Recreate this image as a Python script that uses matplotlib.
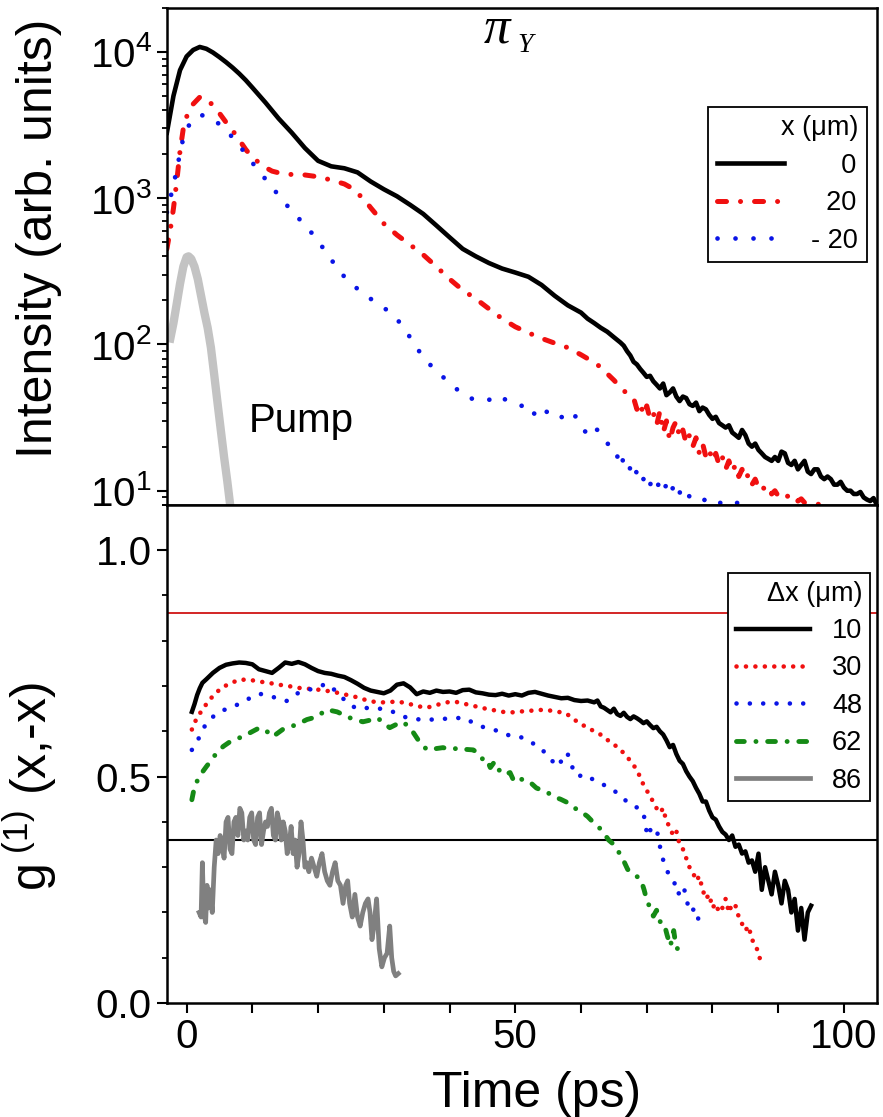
import matplotlib
matplotlib.use("Agg")
import matplotlib.pyplot as plt
from matplotlib.ticker import LogLocator, LogFormatterMathtext, MultipleLocator, FixedLocator, NullFormatter

plt.rcParams['font.family'] = ['Liberation Sans', 'DejaVu Sans']
plt.rcParams['mathtext.fontset'] = 'custom'
plt.rcParams['mathtext.rm'] = 'Liberation Sans'
plt.rcParams['mathtext.it'] = 'Liberation Sans:italic'
plt.rcParams['mathtext.bf'] = 'Liberation Sans:bold'

# ---- top panel: emission intensity vs time (log) ----
t_x0 = [-3, -2, -1, 0, 1, 2, 3, 4, 5, 6, 7, 8, 9, 10, 12, 14, 16, 18, 20, 22, 24, 26, 28, 30,
        32, 34, 36, 38, 40, 42, 44, 46, 48, 50, 52, 54, 56, 58, 60, 61, 62, 63, 64, 65,
        66, 66.5, 67, 67.5, 68, 68.5, 69, 69.5, 70, 70.5, 71, 71.5, 72, 72.5, 73, 73.5, 74, 74.5,
        75, 75.5, 76, 76.5, 77, 77.5, 78, 78.5, 79, 79.5, 80, 80.5, 81, 81.5, 82, 82.5, 83, 83.5,
        84, 84.5, 85, 85.5, 86, 86.5, 87, 87.5, 88, 88.5, 89, 89.5, 90, 90.5, 91, 91.5, 92, 92.5,
        93, 93.5, 94, 94.5, 95, 95.5, 96, 96.5, 97, 97.5, 98, 98.5, 99, 99.5, 100, 100.5, 101, 101.5,
        102, 102.5, 103, 103.5, 104, 104.5, 105]
I_x0 = [2800, 5000, 7500, 9300, 10300, 10800, 10500, 9900, 9200, 8500, 7800, 7100, 6400, 5700, 4500,
        3500, 2800, 2200, 1800, 1650, 1600, 1500, 1300, 1150, 1030, 900, 780, 650, 540, 450, 400, 360,
        330, 310, 290, 255, 215, 185, 165, 150, 140, 130, 122, 112,
        103, 98, 90, 84, 76, 73, 68, 64, 60, 61, 56, 53, 50, 54, 45, 47, 50, 44,
        41, 44, 43, 39, 38, 40, 35, 37, 36, 33, 31, 32, 29, 28, 27, 28, 25, 24,
        23, 26, 24, 21, 20, 21, 19, 18, 17, 16.5, 16, 17, 16, 18.5, 18, 15.5, 15, 16,
        14, 15, 16, 13.5, 13, 14, 14, 12.5, 12, 12.5, 12, 11, 11, 11.5, 10.5, 10, 10, 9.5,
        9.5, 9.8, 9, 8.7, 8.5, 8.9, 8]

t_x20 = [-3, -2.5, -2, -1.5, -1, -0.5, 0, 0.5, 1, 2, 3, 4, 5, 6, 7, 8, 9, 10, 11, 12, 13, 14, 16, 18,
         20, 22, 24, 25, 26, 27, 28, 29, 30, 32, 34, 36, 38, 40, 42, 44, 46, 48, 50, 52, 54, 56, 58,
         60, 61, 62, 63, 64, 65, 66, 67, 68, 68.5, 69, 69.5, 70, 70.5, 71, 71.5, 72, 72.5, 73, 73.5,
         74, 74.5, 75, 75.5, 76, 76.5, 77, 77.5, 78, 78.5, 79, 79.5, 80, 80.5, 81, 81.5, 82, 82.5,
         83, 83.5, 84, 84.5, 85, 85.5, 86, 86.5, 87, 87.5, 88, 88.5, 89, 89.5, 90, 90.5, 91, 91.5,
         92, 92.5, 93, 93.5, 94, 95, 96, 97]
I_x20 = [450, 600, 850, 1300, 2100, 3000, 3600, 4000, 4400, 4900, 4800, 4300, 3800, 3300, 2900, 2500,
         2150, 1900, 1750, 1620, 1530, 1490, 1450, 1440, 1400, 1330, 1250, 1180, 1080, 980, 860, 760,
         670, 560, 480, 410, 340, 280, 235, 205, 175, 150, 132, 120, 110, 102, 95,
         85, 80, 75, 70, 63, 57, 51, 46, 43, 36, 40, 33, 38, 31, 34, 28, 35, 25, 30, 22,
         27, 30, 23, 26, 21, 24, 20, 23, 18, 21, 17, 19, 16, 18, 15, 17, 14, 16,
         13.5, 15, 12.5, 14, 12, 13, 11, 12, 10.5, 11, 10, 10.5, 9.5, 10, 9.2, 9.5, 9, 9.2,
         8.7, 9, 8.5, 8.8, 8.3, 8.2, 8.1, 7.9]

t_xm20 = [-3, -2.5, -2, -1.5, -1, -0.5, 0, 0.5, 1, 2, 3, 4, 5, 6, 7, 8, 9, 10, 11, 12, 13, 14, 15,
          16, 17, 18, 19, 20, 21, 22, 23, 24, 25, 26, 27, 28, 29, 30, 31, 32, 33, 34, 35, 36, 37,
          38, 39, 40, 41, 42, 43, 44, 45, 46, 47, 48, 49, 50, 51, 52, 53, 54, 55, 56, 57, 58, 59,
          60, 61, 62, 63, 64, 65, 65.5, 66, 66.5, 67, 67.5, 68, 68.5, 69, 69.5, 70, 70.5, 71, 71.5,
          72, 72.5, 73, 73.5, 74, 74.5, 75, 75.5, 76, 77, 78, 79, 80, 81, 82, 83, 84, 85]
I_xm20 = [800, 1000, 1200, 1600, 2000, 2600, 3000, 3200, 3450, 3700, 3650, 3450, 3200, 2900, 2600,
          2300, 2000, 1750, 1520, 1350, 1180, 1050, 920, 820, 730, 660, 580, 510, 440, 380, 330,
          290, 260, 240, 220, 205, 190, 178, 165, 150, 128, 112, 95, 82, 73, 66, 60, 54, 50, 45,
          43, 42, 41, 42, 40, 43, 41, 40, 38, 39, 33, 37, 34, 31, 32, 30, 33,
          28, 24, 27, 25, 21, 20, 17, 19, 15, 16, 14, 15.5, 13, 14, 12, 13, 11, 12, 10.5,
          11.5, 10, 11, 9.5, 10.5, 9, 9.8, 8.7, 9.5, 8.8, 9.2, 8.5, 8.8, 8.2, 8.5, 8.1, 8.3, 8.0]

t_pump = [-2.6, -2, -1.5, -1, -0.5, 0, 0.3, 0.7, 1.2, 1.7, 2.2, 2.7, 3.2, 3.7, 4.2, 4.7, 5.2, 5.7, 6.2, 6.7]
I_pump = [103, 140, 190, 260, 340, 395, 400, 385, 340, 280, 215, 165, 130, 95, 62, 40, 26, 17, 11.5, 7.5]

# ---- bottom panel: first order coherence g1(x,-x) ----
t_d10 = [0.8, 1.2, 1.6, 2.0, 2.4, 3, 3.5, 4, 5, 6, 7, 8, 9, 10, 11, 12, 13, 14, 15, 16, 17, 18, 19,
         20, 21, 22, 23, 24, 25, 26, 27, 28, 29, 30, 31, 32, 33, 34, 35, 36, 37, 38, 39, 40, 41, 42,
         43, 44, 45, 46, 47, 48, 49, 50, 51, 52, 53, 54, 55, 56, 57, 58, 59, 60, 61, 62, 62.5, 63,
         63.5, 64, 64.5, 65, 65.5, 66, 66.5, 67, 67.5, 68, 68.5, 69, 69.5, 70, 70.5, 71, 71.5, 72,
         72.5, 73, 73.5, 74, 74.5, 75, 75.5, 76, 76.5, 77, 77.5, 78, 78.5, 79, 79.5, 80, 80.5, 81,
         81.5, 82, 82.5, 83, 83.5, 84, 84.5, 85, 85.5, 86, 86.5, 87, 87.5, 88, 88.5, 89, 89.5, 90,
         90.5, 91, 91.5, 92, 92.5, 93, 93.5, 94, 94.5, 95]
g_d10 = [0.643, 0.66, 0.68, 0.695, 0.707, 0.715, 0.722, 0.729, 0.74, 0.747, 0.75, 0.752, 0.751, 0.748,
         0.737, 0.733, 0.729, 0.74, 0.752, 0.749, 0.753, 0.748, 0.74, 0.733, 0.729, 0.727, 0.723,
         0.72, 0.713, 0.705, 0.696, 0.69, 0.687, 0.684, 0.69, 0.703, 0.706, 0.697, 0.682, 0.688,
         0.685, 0.69, 0.687, 0.688, 0.685, 0.691, 0.692, 0.686, 0.684, 0.681, 0.68, 0.683, 0.679,
         0.682, 0.679, 0.685, 0.687, 0.683, 0.679, 0.676, 0.673, 0.674, 0.669, 0.667, 0.668, 0.664,
         0.668, 0.655, 0.652, 0.647, 0.642, 0.65, 0.638, 0.634, 0.641, 0.632, 0.627, 0.633, 0.629,
         0.624, 0.618, 0.622, 0.614, 0.607, 0.61, 0.6, 0.593, 0.58, 0.565, 0.57, 0.55, 0.535, 0.528,
         0.512, 0.5, 0.49, 0.475, 0.462, 0.445, 0.445, 0.425, 0.41, 0.405, 0.39, 0.378, 0.372, 0.36,
         0.37, 0.345, 0.35, 0.33, 0.335, 0.31, 0.315, 0.29, 0.33, 0.25, 0.3, 0.27, 0.24, 0.29, 0.26,
         0.22, 0.27, 0.25, 0.2, 0.23, 0.16, 0.21, 0.14, 0.2, 0.215]

t_d30 = [0.8, 1.5, 2.4, 3.5, 4.5, 5.3, 6.5, 8, 9.5, 11, 12.5, 14, 15.5, 17, 18.5, 20, 21.5, 23, 24.5,
         26, 27.5, 29, 30.5, 32, 33.5, 35, 36.5, 38, 39.5, 41, 42.5, 44, 45.5, 47, 48.5, 50, 51.5,
         53, 54.5, 56, 57.5, 58.5, 59.5, 60.5, 61.5, 62.5, 63.5, 64.5, 65.5, 66.5, 67.5, 68.5, 69.5,
         70, 70.5, 71, 71.5, 72, 72.5, 73, 73.5, 74, 74.5, 75, 75.5, 76, 76.5, 77, 77.5, 78, 78.5,
         79, 79.5, 80, 80.5, 81, 81.5, 82, 82.5, 83, 83.5, 84, 84.5, 85, 85.5, 86, 86.5, 87, 87.3]
g_d30 = [0.604, 0.628, 0.648, 0.67, 0.685, 0.696, 0.705, 0.714, 0.714, 0.71, 0.707, 0.703, 0.7, 0.696,
         0.694, 0.692, 0.689, 0.685, 0.68, 0.675, 0.668, 0.664, 0.664, 0.666, 0.662, 0.656, 0.652,
         0.658, 0.664, 0.665, 0.66, 0.655, 0.65, 0.646, 0.642, 0.642, 0.645, 0.646, 0.648, 0.644,
         0.641, 0.632, 0.62, 0.612, 0.604, 0.597, 0.588, 0.575, 0.566, 0.552, 0.535, 0.515, 0.482,
         0.47, 0.455, 0.445, 0.43, 0.42, 0.43, 0.4, 0.39, 0.37, 0.38, 0.35, 0.34, 0.32, 0.3, 0.29,
         0.27, 0.28, 0.25, 0.23, 0.24, 0.21, 0.22, 0.2, 0.21, 0.23, 0.2, 0.22, 0.215, 0.19, 0.175,
         0.16, 0.17, 0.14, 0.13, 0.11, 0.093]

t_d48 = [0.8, 1.4, 2, 3, 4, 5, 6.5, 7.6, 9.3, 11.1, 13.1, 15.2, 17.2, 19.2, 21.3, 22.9, 24.4, 25.9,
         27.9, 29.4, 31.4, 33.5, 35.5, 37.5, 39.6, 42.1, 43.6, 45, 46.6, 48, 49.2, 51.2, 52.5, 53.8,
         55, 56.4, 57.9, 58.7, 59.5, 60.5, 61.9, 63, 64, 65, 66, 67, 68, 69, 69.5, 70.1, 70.8, 71.6,
         72.1, 72.6, 73.2, 74.1, 74.6, 75.2, 75.6, 76.2, 76.7, 77.3, 78.2]
g_d48 = [0.559, 0.575, 0.588, 0.619, 0.632, 0.643, 0.652, 0.658, 0.671, 0.683, 0.676, 0.667, 0.687,
         0.694, 0.705, 0.687, 0.663, 0.65, 0.652, 0.65, 0.643, 0.63, 0.626, 0.626, 0.628, 0.63,
         0.619, 0.61, 0.604, 0.598, 0.59, 0.586, 0.575, 0.564, 0.545, 0.522, 0.553, 0.52, 0.5, 0.505,
         0.493, 0.485, 0.478, 0.47, 0.456, 0.445, 0.434, 0.43, 0.42, 0.368, 0.39, 0.377, 0.339, 0.31,
         0.289, 0.273, 0.24, 0.245, 0.258, 0.22, 0.2, 0.21, 0.17]

t_d62 = [0.8, 1.2, 1.7, 2.4, 3, 3.8, 4.7, 5.6, 6.6, 7.5, 8.5, 9.8, 11.1, 12.2, 13.1, 14.6, 15.7, 16.8,
         18.3, 19.8, 21.3, 22.9, 24.8, 26.8, 28, 29, 30.9, 32, 32.9, 33.8, 34.5, 35.5, 36.6, 38, 39,
         40.3, 41.6, 42.6, 43.6, 44.5, 45.2, 45.7, 46.2, 46.7, 47.2, 47.7, 48.5, 49.2, 49.7, 50.5,
         51.3, 52.3, 53.2, 54, 54.9, 55.8, 56.9, 57.9, 58.8, 59.8, 61, 61.8, 62.6, 63.4, 64.2, 65,
         65.5, 66.3, 67.1, 68, 69.1, 69.6, 70.1, 70.6, 71, 71.5, 72, 72.6, 73.1, 73.6, 74.1, 74.4, 74.7]
g_d62 = [0.449, 0.478, 0.493, 0.51, 0.522, 0.537, 0.555, 0.567, 0.577, 0.583, 0.588, 0.598, 0.608,
         0.6, 0.588, 0.604, 0.61, 0.615, 0.626, 0.632, 0.648, 0.643, 0.63, 0.621, 0.625, 0.63, 0.608,
         0.616, 0.621, 0.61, 0.597, 0.575, 0.559, 0.562, 0.564, 0.56, 0.564, 0.56, 0.559, 0.55,
         0.535, 0.537, 0.52, 0.53, 0.512, 0.515, 0.505, 0.509, 0.493, 0.5, 0.49, 0.487, 0.475, 0.47,
         0.465, 0.456, 0.45, 0.443, 0.432, 0.425, 0.412, 0.4, 0.39, 0.377, 0.36, 0.35, 0.339, 0.32,
         0.295, 0.285, 0.273, 0.25, 0.222, 0.21, 0.192, 0.205, 0.18, 0.178, 0.15, 0.126, 0.16, 0.13,
         0.119]

t_d86 = [1.9, 2.2, 2.4, 2.6, 2.9, 3.1, 3.3, 3.6, 3.9, 4.2, 4.5, 4.8, 5.1, 5.4, 5.7, 6.0, 6.3, 6.6,
         6.9, 7.2, 7.5, 7.8, 8.1, 8.4, 8.7, 9.0, 9.3, 9.6, 9.9, 10.2, 10.5, 10.8, 11.1, 11.4, 11.7,
         12.0, 12.3, 12.6, 12.9, 13.2, 13.5, 13.8, 14.1, 14.4, 14.7, 15.0, 15.3, 15.6, 15.9, 16.2,
         16.5, 16.8, 17.1, 17.4, 17.7, 18.0, 18.3, 18.6, 19.0, 19.4, 19.8, 20.2, 20.6, 21.0, 21.4,
         21.8, 22.2, 22.6, 23.0, 23.4, 23.8, 24.2, 24.5, 24.8, 25.2, 25.6, 26.0, 26.4, 26.8, 27.2,
         27.6, 27.9, 28.2, 28.5, 28.9, 29.3, 29.7, 30.1, 30.5, 30.9, 31.2, 31.5, 31.8, 32.2]
g_d86 = [0.2, 0.19, 0.31, 0.2, 0.178, 0.26, 0.21, 0.25, 0.2, 0.3, 0.36, 0.33, 0.37, 0.35, 0.32, 0.4,
         0.41, 0.34, 0.33, 0.4, 0.41, 0.37, 0.43, 0.42, 0.36, 0.38, 0.36, 0.41, 0.42, 0.36, 0.35,
         0.41, 0.42, 0.35, 0.38, 0.4, 0.39, 0.42, 0.43, 0.37, 0.36, 0.42, 0.4, 0.36, 0.4, 0.38, 0.33,
         0.35, 0.39, 0.33, 0.36, 0.3, 0.33, 0.4, 0.36, 0.3, 0.31, 0.29, 0.32, 0.3, 0.28, 0.31, 0.33,
         0.29, 0.27, 0.26, 0.29, 0.31, 0.27, 0.26, 0.22, 0.26, 0.27, 0.22, 0.19, 0.24, 0.19, 0.17,
         0.2, 0.22, 0.23, 0.2, 0.14, 0.17, 0.23, 0.12, 0.08, 0.1, 0.11, 0.17, 0.1, 0.07, 0.06, 0.065]

g_thermal = 0.861   # red reference line
g_cutoff = 0.361    # black reference line (1/e)

legend_top = ['\u2007\u20070', '\u200720', '- 20']
legend_bot = ['10', '30', '48', '62', '86']

fig = plt.figure(figsize=(8.83, 11.17), dpi=100)
ax1 = fig.add_axes([0.189, 0.548, 0.804, 0.445])
ax2 = fig.add_axes([0.189, 0.102, 0.804, 0.446])

l0, = ax1.plot(t_x0, I_x0, color='black', lw=3.3)
l20, = ax1.plot(t_x20, I_x20, color='#f01010', lw=3.6,
                linestyle=(0, (1.8, 2.8, 0.01, 2.8)), dash_capstyle='round')
lm20, = ax1.plot(t_xm20, I_xm20, color='#0a14e6', lw=3.4,
                 linestyle=(0, (0.01, 3.8)), dash_capstyle='round')
ax1.plot(t_pump, I_pump, color='#c3c3c3', lw=6, solid_capstyle='butt')
ax1.text(17.5, 30, 'Pump', ha='center', va='center', fontsize=29)

ax1.set_yscale('log')
ax1.set_xlim(-3, 105)
ax1.set_ylim(8, 2e4)
ax1.yaxis.set_major_locator(LogLocator(base=10, numticks=10))
ax1.yaxis.set_major_formatter(LogFormatterMathtext())
ax1.yaxis.set_minor_locator(LogLocator(base=10, subs=range(2, 10), numticks=20))
ax1.yaxis.set_minor_formatter(NullFormatter())
ax1.xaxis.set_major_locator(MultipleLocator(10))
ax1.set_xticklabels([])
ax1.set_ylabel('Intensity (arb. units)', fontsize=36)
ax1.yaxis.set_label_coords(-0.148, 0.537)

ax1.text(0.465, 0.956, '\u03c0', transform=ax1.transAxes, ha='center', va='center',
         fontsize=38, family='Liberation Serif', style='italic')
ax1.text(0.505, 0.924, 'Y', transform=ax1.transAxes, ha='center', va='center',
         fontsize=20, family='Liberation Serif', style='italic')

leg1 = ax1.legend([l0, l20, lm20], legend_top, title='x (\u03bcm)', loc='upper right',
                  bbox_to_anchor=(0.986, 0.801), borderaxespad=0, fontsize=19.5, title_fontsize=19.5,
                  handlelength=2.5, handletextpad=1.0, labelspacing=0.42, alignment='right',
                  fancybox=False, framealpha=1, edgecolor='black', borderpad=0.32)
leg1.get_frame().set_linewidth(1.3)

# bottom panel
ax2.axhline(g_thermal, color='#cc0000', lw=1.2)
ax2.axhline(g_cutoff, color='black', lw=1.5)
b10, = ax2.plot(t_d10, g_d10, color='black', lw=3.2)
b30, = ax2.plot(t_d30, g_d30, color='#f01010', lw=3.3,
                linestyle=(0, (0.01, 2.05)), dash_capstyle='round')
b48, = ax2.plot(t_d48, g_d48, color='#0a14e6', lw=3.3,
                linestyle=(0, (0.01, 2.9)), dash_capstyle='round')
b62, = ax2.plot(t_d62, g_d62, color='#158a15', lw=3.5,
                linestyle=(0, (1.6, 2.4, 0.01, 2.4)), dash_capstyle='round')
b86, = ax2.plot(t_d86, g_d86, color='#808080', lw=3.4)

ax2.set_xlim(-3, 105)
ax2.set_ylim(0, 1.1)
ax2.xaxis.set_major_locator(FixedLocator(range(0, 101, 10)))
ax2.set_xticklabels(['0', '', '', '', '', '50', '', '', '', '', '100'])
ax2.yaxis.set_major_locator(FixedLocator([0.0, 0.5, 1.0]))
ax2.yaxis.set_minor_locator(MultipleLocator(0.1))
ax2.yaxis.set_major_formatter(plt.FormatStrFormatter('%.1f'))
ax2.set_xlabel('Time (ps)', fontsize=36)
ax2.xaxis.set_label_coords(0.521, -0.136)
ax2.set_ylabel(r'g$^{\mathrm{\ (1)}}$ (x,-x)', fontsize=36)
ax2.yaxis.set_label_coords(-0.151, 0.434)

leg2 = ax2.legend([b10, b30, b48, b62, b86], legend_bot, title='\u0394x (\u03bcm)', loc='upper right',
                  bbox_to_anchor=(0.99, 0.863), borderaxespad=0, fontsize=19.5, title_fontsize=19.5,
                  handlelength=2.75, handletextpad=0.8, labelspacing=0.42, alignment='right',
                  fancybox=False, framealpha=1, edgecolor='black', borderpad=0.28)
leg2.get_frame().set_linewidth(1.3)

for ax in (ax1, ax2):
    for sp in ax.spines.values():
        sp.set_linewidth(1.8)
    ax.tick_params(which='major', direction='out', length=7, width=1.5, labelsize=29, pad=4,
                   top=False, right=False)
    ax.tick_params(which='minor', direction='out', length=3.5, width=1.3, top=False, right=False)

fig.savefig('out.png', dpi=100)
